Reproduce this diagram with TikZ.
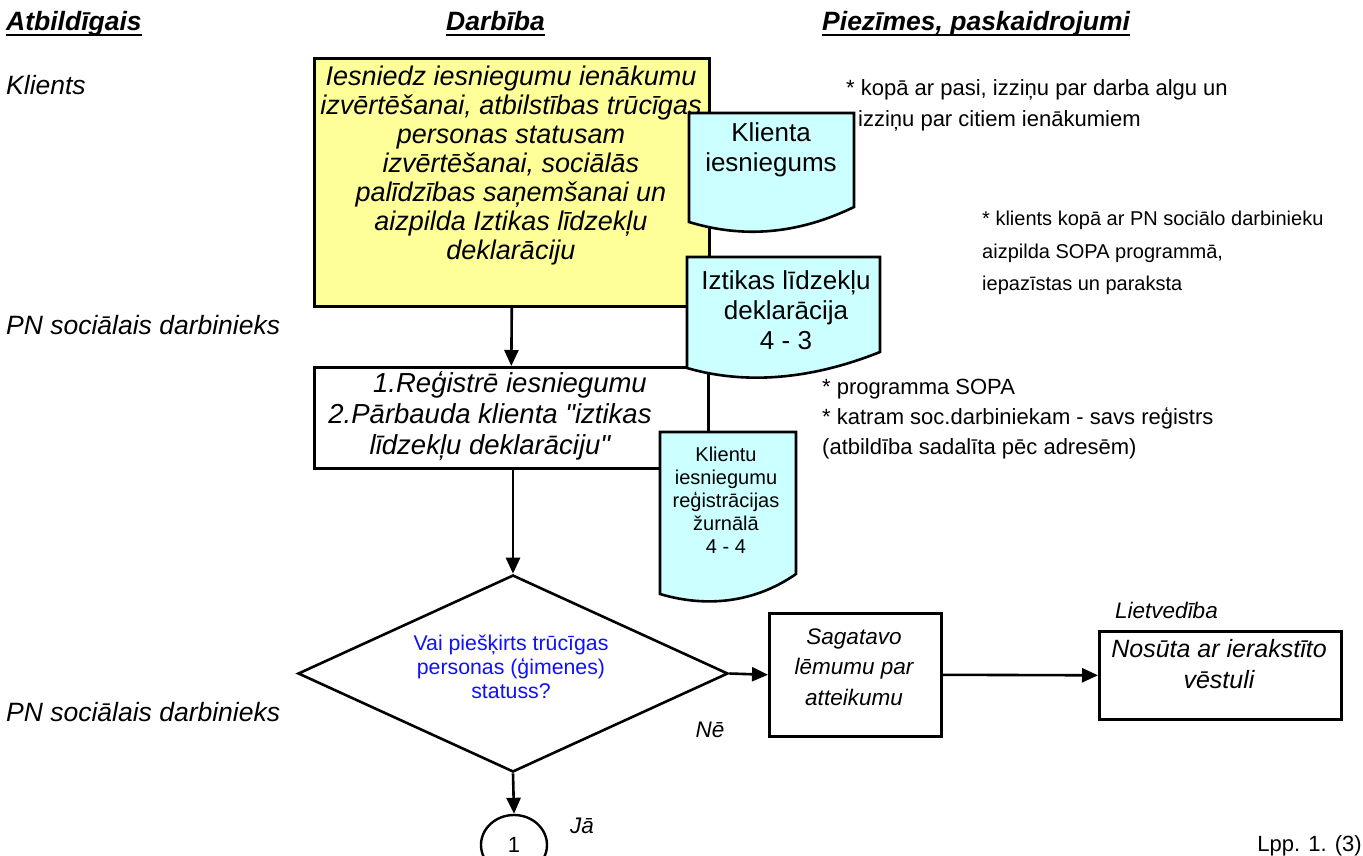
\documentclass[tikz,border=0pt]{standalone}
\usepackage{fontspec}
\setmainfont{Liberation Sans}
\usetikzlibrary{arrows.meta,shapes.geometric}
\definecolor{paleyellow}{HTML}{FFFF99}
\definecolor{doccyan}{HTML}{CCFFFF}
\definecolor{qblue}{HTML}{1010FF}

\begin{document}
\begin{tikzpicture}[x=1pt,y=-1pt,
  uline/.style={line width=2.4pt},
  arr/.style={line width=2.6pt,-{Triangle[length=16pt,width=14pt]}},
  box/.style={draw,line width=2.6pt,inner sep=0pt},
  docshape/.style={draw,fill=doccyan,line width=2.6pt,line join=miter},
  hdr/.style={font=\bfseries\itshape\fontsize{26.5}{30}\selectfont,inner sep=0pt,anchor=base west},
  lane/.style={font=\itshape\fontsize{26.5}{30}\selectfont,inner sep=0pt,anchor=west},
  note/.style={font=\fontsize{22}{24}\selectfont,inner sep=0pt,anchor=base west},
  bigtext/.style={font=\itshape\fontsize{27}{29}\selectfont,align=center,inner sep=0pt},
  midtext/.style={font=\itshape\fontsize{22.5}{30.5}\selectfont,align=center,inner sep=0pt},
  doctext/.style={font=\fontsize{26}{30}\selectfont,align=center,inner sep=0pt},
  smalldoc/.style={font=\fontsize{20}{23}\selectfont,align=center,inner sep=0pt},
]
\useasboundingbox (0,0) rectangle (1363,856);
\fill[white] (0,0) rectangle (1363,856);

% column headings
\node[hdr] (h1) at (6,31) {Atbildīgais};
\node[hdr] (h2) at (446,31) {Darbība};
\node[hdr] (h3) at (822,31) {Piezīmes, paskaidrojumi};
\foreach \h in {h1,h2,h3}
  \draw[uline] ([yshift=-4pt]\h.base west) -- ([yshift=-4pt]\h.base east);

% responsible parties
\node[lane] (l1) at (6,85) {Klients};
\node[lane] (l2) at (6,325) {PN sociālais darbinieks};
\node[lane] (l3) at (6,712) {PN sociālais darbinieks};

% process boxes
\node[box,fill=paleyellow,minimum width=395pt,minimum height=248pt,anchor=north west] (apply) at (313,57) {};
\node[bigtext] (applytxt) at (511,166) {Iesniedz iesniegumu ienākumu\\izvērtēšanai, atbilstības trūcīgas\\personas statusam\\izvērtēšanai, sociālās\\palīdzības saņemšanai un\\aizpilda Iztikas līdzekļu\\deklarāciju};

\node[box,fill=white,minimum width=394pt,minimum height=101pt,anchor=north west] (register) at (313,366) {};
\node[bigtext,font=\itshape\fontsize{27.5}{31}\selectfont] (registertxt) at (490,416) {\hspace*{40pt}1.Reģistrē iesniegumu\\2.Pārbauda klienta \textquotedbl iztikas\\līdzekļu deklarāciju\textquotedbl};

% documents
\path[docshape] (689,113) -- (854,113) -- (854,207)
  .. controls (790,238) and (735,236) .. (689,222) -- cycle;
\node[doctext] (doc1) at (771,150) {Klienta\\iesniegums};

\path[docshape] (687,257) -- (880,257) -- (880,352)
  .. controls (800,384) and (735,382) .. (687,368) -- cycle;
\node[doctext] (doc2) at (786,310) {Iztikas līdzekļu\\deklarācija\\4 - 3};

\path[docshape] (660,432) -- (796,432) -- (796,574)
  .. controls (750,606) and (700,606) .. (660,594) -- cycle;
\node[smalldoc] (doc3) at (726,500) {Klientu\\iesniegumu\\reģistrācijas\\žurnālā\\4 - 4};

% decision
\node[draw,diamond,line width=2.6pt,minimum width=430pt,minimum height=197pt,inner sep=0pt] (decide) at (513,673.5) {};
\node[font=\fontsize{21.3}{24}\selectfont,text=qblue,align=center,inner sep=0pt] (decidetxt) at (511,667) {Vai piešķirts trūcīgas\\personas (ģimenes)\\statuss?};

\node[box,minimum width=172pt,minimum height=123pt,anchor=north west] (refuse) at (768,612) {};
\node[midtext] (refusetxt) at (854,667) {Sagatavo\\lēmumu par\\atteikumu};

\node[box,minimum width=242pt,minimum height=88pt,anchor=north west] (send) at (1098,630) {};
\node[midtext,font=\itshape\fontsize{25}{31}\selectfont] (sendtxt) at (1219,664) {Nosūta ar ierakstīto\\vēstuli};
\node[midtext,anchor=west] (office) at (1115,610) {Lietvedība};

\node[draw,ellipse,line width=2.4pt,minimum width=66pt,minimum height=60pt,inner sep=0pt,font=\fontsize{22}{24}\selectfont] (conn) at (514,845) {1};

% branch labels
\node[midtext] (no) at (710,730) {Nē};
\node[midtext] (yes) at (582,826) {Jā};

% connectors
\draw[arr] (apply.south) -- (register.north);
\draw[arr] (register.south -| decide.north) -- (decide.north);
\draw[arr] (decide.east) -- (refuse.west);
\draw[arr] (refuse.east) -- (send.west);
\draw[arr] (decide.south) -- (conn.north);

% remarks
\node[note] (n1) at (846,95.5) {* kopā ar pasi, izziņu par darba algu un};
\node[note] (n2) at (858,126.5) {izziņu par citiem ienākumiem};
\node[note,font=\fontsize{20}{24}\selectfont] (n3) at (982,225.5) {* klients kopā ar PN sociālo darbinieku};
\node[note,font=\fontsize{20}{24}\selectfont] (n4) at (982,258) {aizpilda SOPA programmā,};
\node[note,font=\fontsize{20}{24}\selectfont] (n5) at (982,290) {iepazīstas un paraksta};
\node[note] (n6) at (822,394.5) {* programma SOPA};
\node[note] (n7) at (822,424.5) {* katram soc.darbiniekam - savs reģistrs};
\node[note] (n8) at (822,454.5) {(atbildība sadalīta pēc adresēm)};

% page number
\node[font=\fontsize{22}{24}\selectfont,inner sep=0pt,anchor=base east] (page) at (1362,851) {Lpp. 1. (3)};
\end{tikzpicture}
\end{document}
